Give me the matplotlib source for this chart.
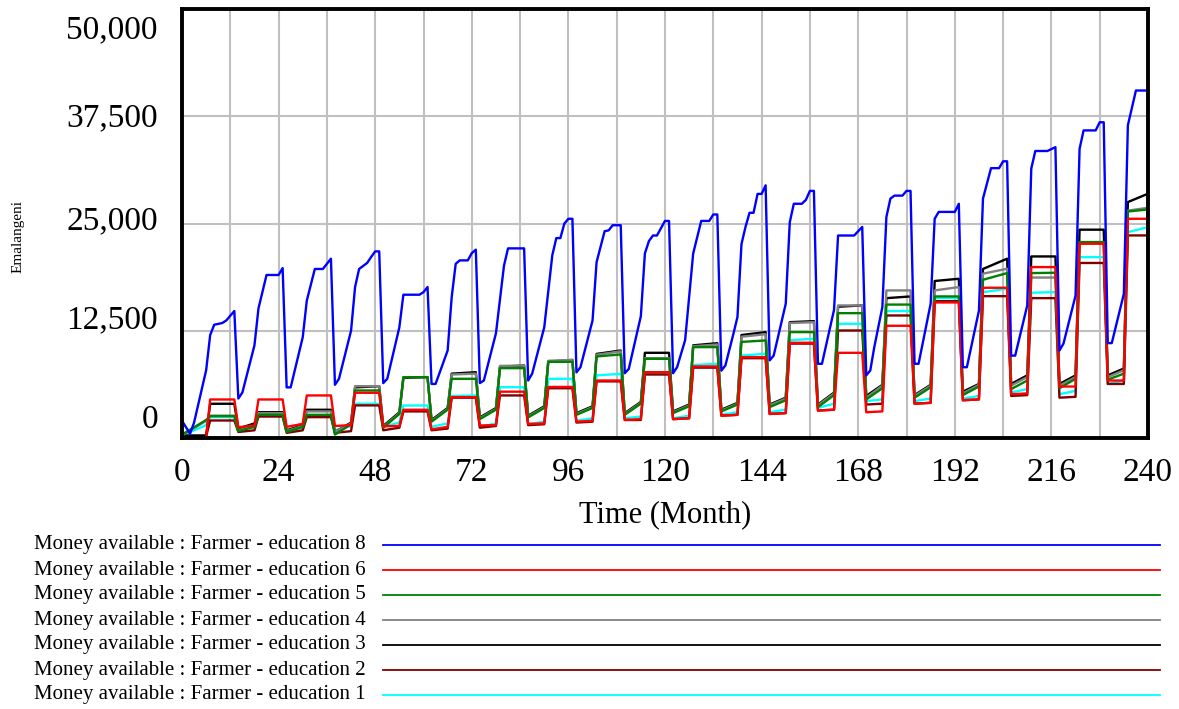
import numpy as np
import matplotlib
matplotlib.use("Agg")
from matplotlib import pyplot as plt

plt.rcParams['font.family'] = ['Liberation Serif', 'DejaVu Serif']

# blue line (education 8), read vertex by vertex
blue_month = [0, 2, 3, 6, 7, 8, 10, 11, 13, 14, 15, 18, 19, 21, 24, 25, 26, 27, 30, 31, 33, 35, 37, 38, 39,
              42, 43, 44, 46, 47, 48, 49, 50, 51, 54, 55, 59, 60, 61, 62, 63, 66, 67, 68, 69, 71, 72, 73, 74,
              75, 78, 80, 81, 85, 86, 87, 90, 92, 93, 94, 95, 96, 97, 98, 99, 102, 103, 105, 106, 107, 109,
              110, 111, 114, 115, 116, 117, 118, 119, 120, 121, 122, 123, 125, 127, 129, 131, 132, 133, 134,
              135, 137, 138, 139, 140, 141, 142, 143, 144, 145, 146, 147, 150, 151, 152, 154, 155, 156, 157,
              158, 159, 162, 163, 167, 169, 170, 171, 172, 174, 175, 176, 177, 179, 180, 181, 182, 183, 186,
              187, 188, 192, 193, 194, 195, 198, 199, 201, 203, 204, 205, 206, 207, 210, 211, 212, 215, 217,
              218, 219, 222, 223, 224, 227, 228, 229, 230, 231, 234, 235, 237, 240]
blue_money = [2000, 500, 1800, 7900, 12000, 13200, 13400, 13700, 14800, 4600, 5300, 10800, 15100, 19000,
              19000, 19800, 5900, 5900, 11750, 16000, 19700, 19700, 20900, 6200, 6900, 12500, 17600, 19700,
              20400, 21100, 21750, 21750, 6400, 6900, 12900, 16700, 16700, 17000, 17600, 6300, 6300, 10200,
              16400, 20300, 20700, 20700, 21550, 21950, 6400, 6700, 12200, 20100, 22100, 22100, 6700, 7500,
              12900, 21300, 23300, 23300, 25000, 25550, 25550, 7650, 8250, 13700, 20500, 24100, 24200, 24800,
              24800, 7550, 8050, 14200, 21500, 22950, 23600, 23600, 24450, 25300, 25300, 7550, 8250, 11400,
              21500, 25300, 25300, 26050, 26050, 7850, 8450, 12150, 14100, 22600, 24600, 26250, 26250, 28450,
              28450, 29450, 9050, 9600, 15650, 25150, 27300, 27300, 27750, 28800, 28800, 8650, 8650, 14950,
              23600, 23600, 24600, 7300, 7870, 10600, 15250, 25750, 27900, 28250, 28250, 28800, 28800, 8650,
              8650, 15650, 25550, 26350, 26350, 27300, 8250, 8250, 14850, 27900, 31450, 31450, 32250, 32250,
              9600, 9600, 15450, 31400, 33450, 33450, 33900, 10200, 11000, 16600, 33700, 35850, 35850, 36800,
              36800, 11060, 11060, 16800, 36450, 40500, 40500]

# other series: one value per yearly cycle (20 cycles)
# lo_a = start of low season, lo_b = end of low season, hi_a / hi_b = start / end of high season
black_lo_a = [300, 1100, 900, 700, 1400, 2100, 2400, 2600, 2900, 2900, 3100, 3300, 3900, 3900, 4900, 5000, 5400, 6300, 6300, 7300]
black_lo_b = [300, 1700, 1500, 1800, 3000, 3500, 3500, 3700, 3700, 4200, 3900, 4100, 4700, 5300, 6200, 6200, 6300, 7300, 7300, 8100]
black_hi_a = [3990, 3010, 3290, 5900, 7000, 7500, 8300, 8900, 9800, 9930, 10800, 12000, 13500, 15300, 16300, 18300, 19700, 21160, 24280, 27500]
black_hi_b = [3990, 3010, 3290, 6040, 7100, 7670, 8450, 9100, 10200, 9930, 11050, 12340, 13620, 15450, 16500, 18560, 20900, 21160, 24280, 28470]

gray_lo_a = [300, 900, 800, 700, 1300, 2000, 2300, 2500, 2800, 2800, 3000, 3200, 3800, 3800, 4700, 4900, 5200, 6100, 6100, 7100]
gray_lo_b = [2000, 1400, 1400, 1700, 2900, 3400, 3400, 3600, 3600, 4100, 3800, 4000, 4600, 5200, 6100, 6100, 6200, 7100, 7100, 7900]
gray_hi_a = [2600, 2900, 3100, 6040, 7090, 7400, 8400, 9000, 9700, 9300, 10700, 11800, 13400, 15450, 17200, 17200, 19150, 18700, 22830, 26500]
gray_hi_b = [2600, 2900, 3100, 6040, 7090, 7500, 8450, 9100, 10100, 9300, 10900, 12100, 13500, 15450, 17200, 17590, 19730, 18700, 22830, 26830]

green_lo_a = [400, 800, 700, 400, 1200, 1900, 2200, 2400, 2700, 2700, 2900, 3100, 3600, 3600, 4500, 4700, 5000, 5700, 5800, 6800]
green_lo_b = [2100, 1300, 1300, 1600, 2800, 3300, 3300, 3500, 3500, 4000, 3700, 3900, 4400, 5000, 5800, 5900, 6000, 6700, 6900, 7500]
green_hi_a = [2550, 2700, 2700, 5540, 7090, 6900, 8140, 8880, 9500, 9230, 10590, 11200, 12340, 14550, 15550, 16500, 18440, 19220, 22830, 26400]
green_hi_b = [2550, 2700, 2700, 5540, 7090, 6900, 8140, 8880, 9740, 9230, 10590, 11370, 12340, 14550, 15550, 16500, 19220, 19260, 22830, 26640]

cyan_lo_a = [300, 900, 800, 900, 1300, 1300, 1300, 1600, 2000, 2300, 2300, 2700, 3000, 3500, 4300, 4300, 4600, 5300, 5100, 6300]
cyan_lo_b = [1500, 1300, 1200, 1400, 1800, 1700, 1700, 1900, 2300, 2500, 2600, 3000, 3300, 4000, 4500, 4600, 4900, 5700, 5500, 6700]
cyan_hi_a = [2430, 2600, 2650, 3990, 3790, 4880, 5920, 6900, 7300, 7500, 8500, 9600, 11400, 13310, 14800, 16300, 17000, 16930, 21080, 24000]
cyan_hi_b = [2430, 2600, 2650, 3990, 3790, 4960, 5920, 6900, 7480, 7500, 8650, 9820, 11560, 13310, 14800, 16300, 17400, 17000, 21080, 24580]

darkred_lo_a = [200, 700, 600, 600, 900, 900, 1200, 1500, 1800, 2100, 2200, 2600, 2800, 3200, 3900, 4000, 4400, 4900, 4700, 6300]
darkred_lo_b = [200, 900, 900, 800, 1200, 1100, 1400, 1600, 1900, 2100, 2300, 2700, 2900, 3300, 4000, 4100, 4500, 5000, 4800, 6300]
darkred_hi = [2040, 2500, 2430, 3800, 3100, 4700, 4960, 5800, 6600, 7400, 8200, 9300, 11000, 12530, 14280, 15950, 16530, 16300, 20400, 23610]

red_lo_a = [0, 1260, 1300, 1400, 1370, 1000, 1460, 1650, 1900, 2100, 2200, 2600, 2800, 3200, 3000, 4000, 4400, 5100, 6000, 6700]
red_lo_b = [0, 1450, 1650, 1500, 1400, 1300, 1500, 1700, 2000, 2200, 2300, 2700, 2900, 3300, 3100, 4100, 4500, 5200, 6000, 6700]
red_hi = [4490, 4490, 4960, 5270, 3290, 4760, 5400, 5950, 6700, 7670, 8340, 9420, 11100, 9930, 13080, 15800, 17510, 19920, 22640, 25550]

labels = ["Money available : Farmer - education 8",
          "Money available : Farmer - education 6",
          "Money available : Farmer - education 5",
          "Money available : Farmer - education 4",
          "Money available : Farmer - education 3",
          "Money available : Farmer - education 2",
          "Money available : Farmer - education 1"]
colors = ["#0000ff", "#ff0000", "#008000", "#808080", "#000000", "#800000", "#00ffff"]

ytick_vals = [0, 12500, 25000, 37500, 50000]
ytick_text = ["0", "12,500", "25,000", "37,500", "50,000"]

# month grid of the yearly cycle
cycle = np.arange(20)
low_start = np.where(cycle == 0, 0, 12 * cycle + 2)
low_end = 12 * cycle + 6
high_start = 12 * cycle + 7
high_end = np.minimum(12 * cycle + 13, 240)


def build(lo_a, lo_b, hi_a, hi_b):
    t, v = [], []
    for k in range(len(cycle)):
        t += [low_start[k], low_end[k], high_start[k], high_end[k]]
        v += [lo_a[k], lo_b[k], hi_a[k], hi_b[k]]
    return t, v


series = {
    6: build(cyan_lo_a, cyan_lo_b, cyan_hi_a, cyan_hi_b),
    5: build(darkred_lo_a, darkred_lo_b, darkred_hi, darkred_hi),
    4: build(black_lo_a, black_lo_b, black_hi_a, black_hi_b),
    3: build(gray_lo_a, gray_lo_b, gray_hi_a, gray_hi_b),
    2: build(green_lo_a, green_lo_b, green_hi_a, green_hi_b),
    1: build(red_lo_a, red_lo_b, red_hi, red_hi),
    0: (blue_month, blue_money),
}

W, H = 1179, 709
fig = plt.figure(figsize=(W / 100, H / 100), dpi=100)
ax = fig.add_axes([182 / W, 1 - 438 / H, 966 / W, 429 / H])

for idx in [6, 5, 4, 3, 2, 1, 0]:
    t, v = series[idx]
    ax.plot(t, v, color=colors[idx], lw=1.7, zorder=3)

ax.set_xlim(0, 240)
ax.set_ylim(0, 50000)
ax.set_xticks(range(0, 241, 12))
ax.set_xticklabels([str(m) if m % 24 == 0 else "" for m in range(0, 241, 12)], fontsize=24)
ax.set_yticks(ytick_vals)
ax.set_yticklabels([])
ax.tick_params(length=0, pad=14)
ax.grid(True, color="#c0c0c0", lw=1.5, zorder=1)
for s in ax.spines.values():
    s.set_linewidth(2.8)
    s.set_zorder(5)

# y labels as Vensim places them
for val_txt, ypix in zip(ytick_text, [420, 320, 221, 118, 30]):
    fig.text(158 / W, 1 - ypix / H, val_txt, ha="right", va="center", fontsize=24)

ax.set_xlabel("Time (Month)", fontsize=22, labelpad=9)
fig.text(18 / W, 1 - 237 / H, "Emalangeni", rotation=90, ha="center", va="center", fontsize=11)

# legend rows
for i, (lab, col) in enumerate(zip(labels, colors)):
    ypix = 545 + 25 * i
    fig.text(366 / W, 1 - ypix / H, lab, ha="right", va="center", fontsize=15)
    fig.add_artist(plt.Line2D([383 / W, 1160 / W], [1 - ypix / H, 1 - ypix / H], color=col, lw=1.3))

fig.savefig("out.png", dpi=100)
